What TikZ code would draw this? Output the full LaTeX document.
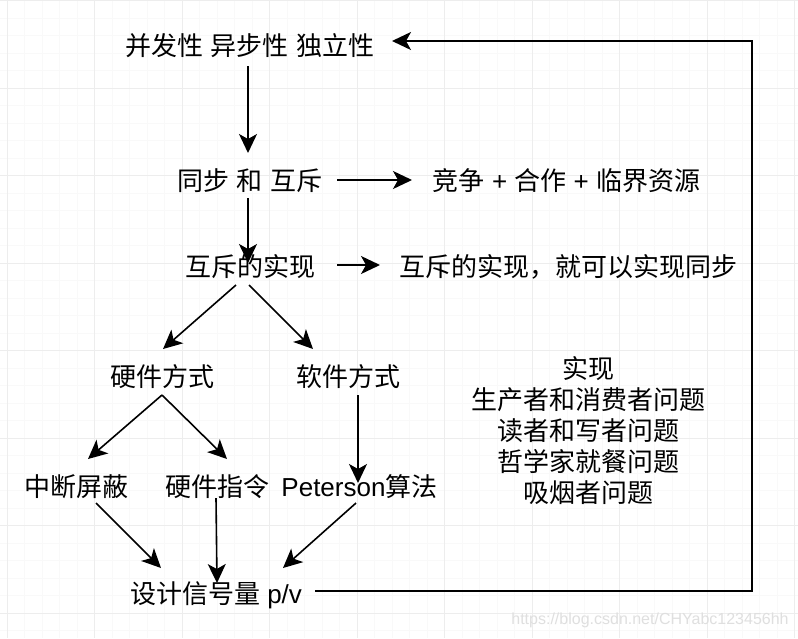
\documentclass[tikz,border=0pt]{standalone}
\usepackage{fontspec}
\setmainfont{Liberation Sans}
\newfontfamily\cjk{Noto Sans CJK SC}
\usetikzlibrary{arrows.meta, calc}

\newcommand{\zh}[1]{{\cjk #1}}

\begin{document}
\begin{tikzpicture}[x=1pt, y=-1pt,
    lbl/.style={font=\fontsize{26}{31}\selectfont, inner sep=0pt, text height=23pt, text depth=3pt},
    block/.style={font=\cjk\fontsize{26}{31}\selectfont, inner sep=0pt, align=center},
    arr/.style={line width=1.6pt, -{Stealth[length=19pt, width=18pt, inset=5pt]}},
    major/.style={gray!14, line width=1pt},
    minor/.style={gray!5, line width=1pt}]
    \useasboundingbox (0,0) rectangle (798,638);
    % Grid
    \fill[white] (0,0) rectangle (798,638);
    \foreach \i in {0,...,45} \draw[minor] ({7+17.5*\i},0) -- ({7+17.5*\i},638);
    \foreach \i in {0,...,36} \draw[minor] (0,{0.5+17.5*\i}) -- (798,{0.5+17.5*\i});
    \foreach \i in {0,...,9} \draw[major] ({7+87.5*\i},0) -- ({7+87.5*\i},638);
    \foreach \i in {0,...,7} \draw[major] (0,{0.5+87.5*\i}) -- (798,{0.5+87.5*\i});
    % Labels
    \node[lbl] (props) at (250,45) {\zh{并发性} \zh{异步性} \zh{独立性}};
    \node[lbl] (sync) at (250,180) {\zh{同步} \zh{和} \zh{互斥}};
    \node[lbl] (comp) at (566.5,180) {\zh{竞争} + \zh{合作} + \zh{临界资源}};
    \node[lbl] (mutex) at (250,266) {\zh{互斥的实现}};
    \node[lbl] (mutexnote) at (568,266) {\zh{互斥的实现，就可以实现同步}};
    \node[lbl] (hw) at (162,376) {\zh{硬件方式}};
    \node[lbl] (sw) at (348.5,376) {\zh{软件方式}};
    \node[lbl] (intr) at (76.5,486) {\zh{中断屏蔽}};
    \node[lbl] (hwins) at (217,486) {\zh{硬件指令}};
    \node[lbl] (peter) at (359.5,486) {Peterson\zh{算法}};
    \node[lbl] (sem) at (216,593) {\zh{设计信号量} p/v};
    \node[block, anchor=base] (probs) at (588,502)
        {实现\\生产者和消费者问题\\读者和写者问题\\哲学家就餐问题\\吸烟者问题};
    \node[font=\fontsize{16}{18}\selectfont, text=gray!25, inner sep=0pt] (mark) at (650,620)
        {https://blog.csdn.net/CHYabc123456hh};
    % Arrows
    \draw[arr] ($(props)+(-2,21)$) -- ($(sync)+(-2,-27)$);
    \draw[arr] ($(sync)+(87,0)$) -- ($(comp)+(-154.5,0)$);
    \draw[arr] ($(sync)+(-2,18)$) -- ($(mutex)+(-2,-3)$);
    \draw[arr] ($(mutex)+(87,-1)$) -- ($(mutexnote)+(-188,-1)$);
    \draw[arr] ($(mutex)+(-14,19)$) -- ($(hw)+(1,-27)$);
    \draw[arr] ($(mutex)+(-1,19)$) -- ($(sw)+(-35.5,-27)$);
    \draw[arr] ($(hw)+(0,19)$) -- ($(intr)+(11.5,-27)$);
    \draw[arr] ($(hw)+(0,19)$) -- ($(hwins)+(10,-27)$);
    \draw[arr] ($(sw)+(9.5,19)$) -- ($(peter)+(-1.5,-3)$);
    \draw[arr] ($(intr)+(19.5,17)$) -- ($(sem)+(-55,-25)$);
    \draw[arr] ($(hwins)+(-1,12)$) -- ($(sem)+(1,-10)$);
    \draw[arr] ($(peter)+(-3.5,17)$) -- ($(sem)+(67,-25)$);
    % Feedback loop
    \coordinate (corner) at (752,41);
    \draw[arr] ($(sem)+(99,-2)$) -| (corner) -- ($(props)+(142,-4)$);
\end{tikzpicture}
\end{document}
